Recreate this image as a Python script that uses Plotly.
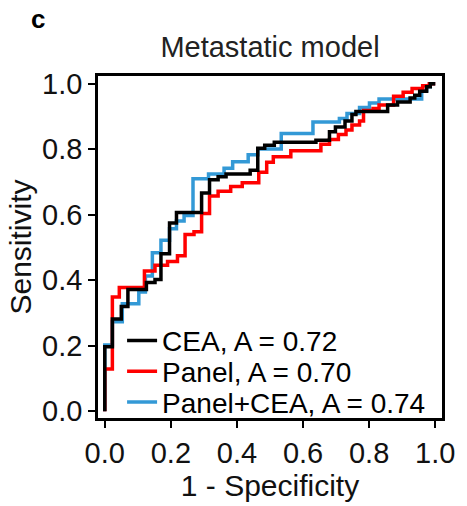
import plotly.graph_objects as go

# ---- data ----
cea_fpr = [0, 0, 0.023, 0.050, 0.070, 0.126, 0.152, 0.170, 0.196, 0.217,
           0.293, 0.317, 0.343, 0.367, 0.440, 0.463, 0.484, 0.513, 0.639, 0.680,
           0.698, 0.727, 0.748, 0.760, 0.856, 0.886, 0.924, 0.938, 0.953, 0.974,
           0.985, 1.0]
cea_tpr = [0, 0.197, 0.282, 0.320, 0.372, 0.393, 0.402, 0.481, 0.575, 0.607,
           0.666, 0.707, 0.716, 0.724, 0.736, 0.803, 0.812, 0.821, 0.827, 0.853,
           0.868, 0.886, 0.906, 0.915, 0.935, 0.944, 0.956, 0.965, 0.977, 0.991,
           1.0, 1.0]

panel_fpr = [0, 0, 0.023, 0.044, 0.120, 0.152, 0.190, 0.220, 0.243, 0.270,
             0.293, 0.317, 0.343, 0.381, 0.416, 0.466, 0.490, 0.510, 0.563, 0.654,
             0.680, 0.707, 0.730, 0.748, 0.771, 0.783, 0.812, 0.830, 0.874, 0.903,
             0.930, 0.962, 0.982, 1.0]
panel_tpr = [0, 0.129, 0.349, 0.378, 0.428, 0.446, 0.457, 0.475, 0.540, 0.548,
             0.604, 0.657, 0.672, 0.686, 0.698, 0.730, 0.760, 0.777, 0.795, 0.815,
             0.830, 0.845, 0.859, 0.874, 0.886, 0.918, 0.924, 0.935, 0.962, 0.974,
             0.985, 0.994, 1.0, 1.0]

combo_fpr = [0, 0, 0.023, 0.053, 0.103, 0.123, 0.144, 0.170, 0.196, 0.217,
             0.240, 0.267, 0.314, 0.361, 0.387, 0.434, 0.463, 0.534, 0.630, 0.710,
             0.733, 0.771, 0.801, 0.830, 0.959, 0.974, 0.985, 1.0]
combo_tpr = [0, 0.202, 0.273, 0.328, 0.364, 0.413, 0.484, 0.522, 0.557, 0.581,
             0.598, 0.710, 0.724, 0.742, 0.762, 0.783, 0.801, 0.848, 0.883, 0.894,
             0.909, 0.927, 0.941, 0.953, 0.979, 0.991, 1.0, 1.0]

series_names = ["CEA, A = 0.72", "Panel, A = 0.70", "Panel+CEA, A = 0.74"]
tick_vals = [0.0, 0.2, 0.4, 0.6, 0.8, 1.0]
tick_text = ["0.0", "0.2", "0.4", "0.6", "0.8", "1.0"]

FONT = "Liberation Sans, Arial, Helvetica, sans-serif"
BLACK = "#000000"
RED = "#FF0000"
BLUE = "#3399D6"

fig = go.Figure()
fig.add_trace(go.Scatter(x=combo_fpr, y=combo_tpr, mode="lines", name=series_names[2],
                         line=dict(color=BLUE, width=3.5, shape="hv"), legend="legend3"))
fig.add_trace(go.Scatter(x=panel_fpr, y=panel_tpr, mode="lines", name=series_names[1],
                         line=dict(color=RED, width=3.5, shape="hv"), legend="legend2"))
fig.add_trace(go.Scatter(x=cea_fpr, y=cea_tpr, mode="lines", name=series_names[0],
                         line=dict(color=BLACK, width=3.5, shape="hv"), legend="legend"))

def leg(y):
    return dict(x=0.07, xanchor="left", y=y, yanchor="middle",
                bgcolor="rgba(0,0,0,0)", borderwidth=0,
                font=dict(family=FONT, size=28, color="black"), itemwidth=30)

axis_common = dict(
    tickvals=tick_vals, ticktext=tick_text,
    ticks="outside", ticklen=7, tickwidth=2, tickcolor="black",
    showline=True, linecolor="black", linewidth=2.5, mirror=True,
    showgrid=False, zeroline=False,
    tickfont=dict(family=FONT, size=29, color="#111111"),
)

fig.update_layout(
    width=467, height=506, autosize=False,
    margin=dict(l=98, r=14, t=76, b=75),
    paper_bgcolor="white", plot_bgcolor="white",
    font=dict(family=FONT, color="black"),
    showlegend=True,
    legend=leg(0.226),
    legend2=leg(0.136),
    legend3=leg(0.046),
    title=dict(text="Metastatic model", x=0.5, xref="paper", xanchor="center",
               y=1 - 47 / 506, yanchor="middle",
               font=dict(family=FONT, size=29, color="#222222")),
    xaxis=dict(range=[-0.0205, 1.0205],
               title=dict(text="1 - Specificity", standoff=4,
                          font=dict(family=FONT, size=30, color="#111111")),
               **axis_common),
    yaxis=dict(range=[-0.0205, 1.0235],
               title=dict(text="Sensitivity", standoff=2,
                          font=dict(family=FONT, size=30, color="#111111")),
               **axis_common),
    annotations=[dict(text="<b>c</b>", xref="paper", yref="paper",
                      x=(36 - 98) / 355, y=(431 - 17) / 355,
                      xanchor="center", yanchor="middle", showarrow=False,
                      font=dict(family=FONT, size=26, color="black"))],
)

fig.write_html("out.html")
